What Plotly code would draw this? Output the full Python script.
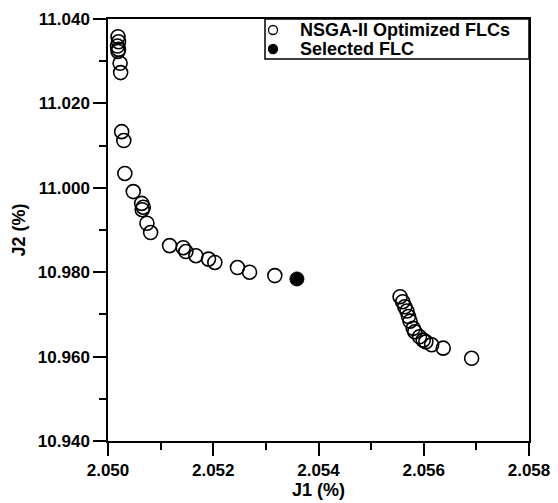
import plotly.graph_objects as go

# Pareto front (NSGA-II optimized FLCs)
j1_pareto = [2.05019, 2.05020, 2.05018, 2.05020, 2.05019, 2.05023, 2.05024,
             2.05026, 2.05030, 2.05032, 2.05048, 2.05064, 2.05067, 2.05065,
             2.05074, 2.05081, 2.05117, 2.05143, 2.05148, 2.05167, 2.05191,
             2.05203, 2.05246, 2.05269, 2.05317,
             2.05555, 2.05560, 2.05564, 2.05568, 2.05571, 2.05574, 2.05580,
             2.05583, 2.05592, 2.05599, 2.05604, 2.05615, 2.05637, 2.05691]
j2_pareto = [11.0358, 11.0346, 11.0336, 11.0328, 11.0323, 11.0295, 11.0273,
             11.0133, 11.0112, 11.0034, 10.9991, 10.9963, 10.9954, 10.9948,
             10.9916, 10.9894, 10.9863, 10.9858, 10.9849, 10.9839, 10.9831,
             10.9823, 10.9811, 10.9800, 10.9792,
             10.9742, 10.9730, 10.9718, 10.9708, 10.9695, 10.9684, 10.9667,
             10.9659, 10.9647, 10.9639, 10.9635, 10.9628, 10.9620, 10.9596]

# Selected FLC
j1_selected = [2.05359]
j2_selected = [10.9784]

x_tick_vals = [2.050, 2.052, 2.054, 2.056, 2.058]
y_tick_vals = [10.940, 10.960, 10.980, 11.000, 11.020, 11.040]

series_names = ["NSGA-II Optimized FLCs", "Selected FLC"]

FONT = "Liberation Sans, Arial, sans-serif"

W, H = 558, 503
ML, MR, MT, MB = 108, 29, 19, 62
PW, PH = W - ML - MR, H - MT - MB


def px_to_paper(px, py):
    return (px - ML) / PW, (H - MB - py) / PH


fig = go.Figure()
fig.add_trace(go.Scatter(
    x=j1_pareto, y=j2_pareto, mode="markers", name=series_names[0],
    marker=dict(symbol="circle-open", size=14, color="black",
                line=dict(width=1.6, color="black")),
))
fig.add_trace(go.Scatter(
    x=j1_selected, y=j2_selected, mode="markers", name=series_names[1],
    marker=dict(symbol="circle", size=14, color="black",
                line=dict(width=1, color="black")),
))

axis_common = dict(
    showgrid=False, zeroline=False, showline=True, linecolor="black",
    linewidth=1.5, mirror=True, ticks="outside", ticklen=13, tickwidth=1.5,
    tickcolor="black", tickformat=".3f",
    tickfont=dict(family=FONT, size=17, color="black", weight="bold"),
    minor=dict(ticks="outside", ticklen=7, tickwidth=1.5, tickcolor="black"),
)

fig.update_xaxes(
    range=[2.050, 2.058], tickvals=x_tick_vals,
    minor_dtick=0.001, minor_tick0=2.050,
    title=dict(text="J1 (%)", standoff=4,
               font=dict(family=FONT, size=18, color="black", weight="bold")),
    **axis_common,
)
fig.update_yaxes(
    range=[10.940, 11.040], tickvals=y_tick_vals,
    minor_dtick=0.01, minor_tick0=10.940,
    title=dict(text="J2 (%)", standoff=8,
               font=dict(family=FONT, size=18, color="black", weight="bold")),
    **axis_common,
)

# Manual legend (compact, as in the reference)
bx0, by0 = px_to_paper(265, 59)
bx1, by1 = px_to_paper(529, 19)
fig.add_shape(type="rect", xref="paper", yref="paper",
              x0=bx0, y0=by0, x1=bx1, y1=by1,
              line=dict(color="black", width=1.5), fillcolor="white",
              layer="above")
rows_y = [30, 49]
r = 4.5
for i, (name, py) in enumerate(zip(series_names, rows_y)):
    cx0, cy0 = px_to_paper(273 - r, py + r)
    cx1, cy1 = px_to_paper(273 + r, py - r)
    fig.add_shape(type="circle", xref="paper", yref="paper",
                  x0=cx0, y0=cy0, x1=cx1, y1=cy1,
                  line=dict(color="black", width=1.3),
                  fillcolor="white" if i == 0 else "black", layer="above")
    tx, ty = px_to_paper(299, py)
    fig.add_annotation(x=tx, y=ty, xref="paper", yref="paper",
                       xanchor="left", yanchor="middle", showarrow=False,
                       text=name, borderpad=0,
                       font=dict(family=FONT, size=18, color="black",
                                 weight="bold"))

fig.update_layout(
    width=W, height=H,
    margin=dict(l=ML, r=MR, t=MT, b=MB, autoexpand=False),
    plot_bgcolor="white", paper_bgcolor="white",
    showlegend=False,
)

fig.write_html("out.html",
               config={"displayModeBar": False},
               post_script="document.body.style.margin='0';"
                           "document.body.style.padding='0';")
